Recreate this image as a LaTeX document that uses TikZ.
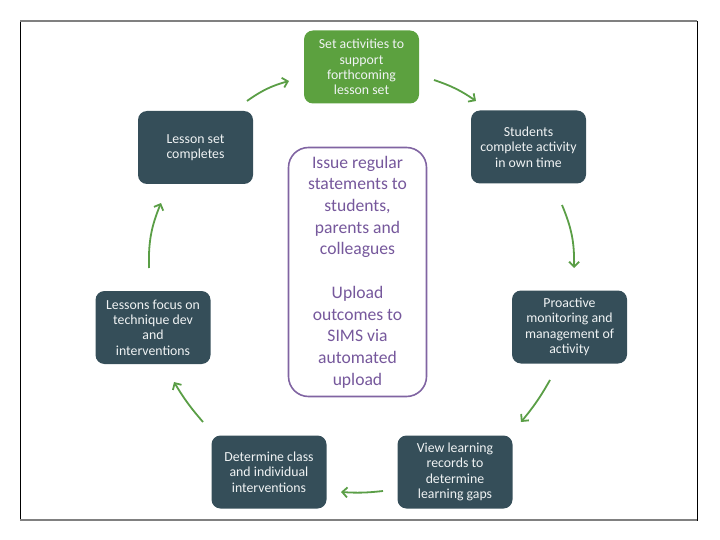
\documentclass[tikz,border=0pt]{standalone}
\usepackage{fontspec}
\setmainfont{Carlito}
\usetikzlibrary{arrows.meta}
\definecolor{slate}{RGB}{53,78,89}
\definecolor{leaf}{RGB}{92,161,63}
\definecolor{arrowgreen}{RGB}{90,158,70}
\definecolor{purpleline}{RGB}{128,100,162}
\definecolor{purpletext}{RGB}{118,88,156}
\definecolor{nodetext}{RGB}{240,243,244}
\tikzset{
  stepbox/.style={draw=none, fill=slate, rounded corners=9pt, minimum width=115pt,
    minimum height=73pt, align=center, text=nodetext, inner sep=2pt,
    font=\fontsize{13.8}{15.4}\selectfont},
  greenbox/.style={stepbox, fill=leaf},
  centerbox/.style={draw=purpleline, line width=1.6pt, fill=white, rounded corners=20pt,
    minimum width=138pt, minimum height=249pt, align=center, text=purpletext,
    font=\fontsize{17.6}{21.7}\selectfont},
  cyclearrow/.style={draw=arrowgreen, line width=1.8pt,
    -{Straight Barb[length=5pt,width=10pt,line width=1.8pt]}}
}
\begin{document}
\begin{tikzpicture}[x=1pt,y=1pt]
\useasboundingbox (0,0) rectangle (720,-540);
% frame
\draw[black, line width=0.8pt] (20,-21) rectangle (697,-520);
\draw[gray, line width=2pt] (20,-21) -- (697,-21);
\draw[gray, line width=2pt] (20,-520) -- (697,-520);

\node[greenbox] (set) at (361.5,-67) {Set activities to\\support\\forthcoming\\lesson set};
\node[stepbox] (students) at (528.5,-147) {Students\\complete activity\\in own time};
\node[stepbox] (proactive) at (569.5,-327) {Proactive\\monitoring and\\management of\\activity};
\node[stepbox] (view) at (455,-472) {View learning\\records to\\determine\\learning gaps};
\node[stepbox] (determine) at (269,-472) {Determine class\\and individual\\interventions};
\node[stepbox] (focus) at (153,-327.5) {Lessons focus on\\technique dev\\and\\interventions};
\node[stepbox] (completes) at (195.5,-147.5) {Lesson set\\completes};

\node[centerbox] (issue) at (357.5,-272) {Issue regular\\statements to\\students,\\parents and\\colleagues\\[21.7pt]Upload\\outcomes to\\SIMS via\\automated\\upload};

% arrows
\coordinate (a1s) at (247,-101); \coordinate (a1e) at (289,-81);
\coordinate (a2s) at (434,-80);  \coordinate (a2e) at (476,-101);
\coordinate (a3s) at (562,-205); \coordinate (a3e) at (574,-268);
\coordinate (a4s) at (550,-380); \coordinate (a4e) at (521,-422);
\coordinate (a5s) at (383,-491); \coordinate (a5e) at (341,-492);
\coordinate (a6s) at (203,-422); \coordinate (a6e) at (174,-382);
\coordinate (a7s) at (149,-268); \coordinate (a7e) at (161,-203);

\draw[cyclearrow] (a1s) to[bend left=10] (a1e);
\draw[cyclearrow] (a2s) to[bend left=8] (a2e);
\draw[cyclearrow] (a3s) to[bend left=12] (a3e);
\draw[cyclearrow] (a4s) to[bend left=5] (a4e);
\draw[cyclearrow] (a5s) to[bend left=5] (a5e);
\draw[cyclearrow] (a6s) to[bend left=5] (a6e);
\draw[cyclearrow] (a7s) to[bend left=12] (a7e);
\end{tikzpicture}
\end{document}
